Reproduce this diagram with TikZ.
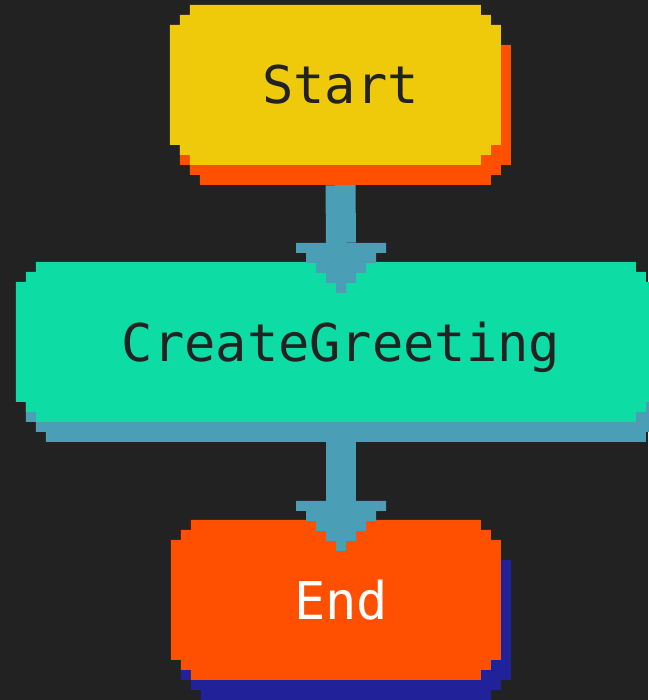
\documentclass[tikz,border=0pt]{standalone}
\usepackage{fontspec}
\setmonofont{DejaVu Sans Mono}
\usepackage{tikz}

\definecolor{bgdark}{HTML}{222222}
\definecolor{startyellow}{HTML}{EECA0B}
\definecolor{hotorange}{HTML}{FF4F00}
\definecolor{mintgreen}{HTML}{0DDDA5}
\definecolor{steelteal}{HTML}{4A9EB5}
\definecolor{deepnavy}{HTML}{21219A}

\pgfdeclarelayer{boxes}
\pgfsetlayers{boxes,main}

\tikzset{
    pixnode/.style={inner sep=0pt, minimum height=160pt, text height=38pt, text depth=0pt,
        font=\fontsize{52}{60}\selectfont\ttfamily},
    pixshaft/.style={draw=steelteal, line width=30pt},
    pixarrow/.style={fill=steelteal}
}

% stepped box: colour, top left corner, width, height
\newcommand{\pixfill}[4]{\fill[#1] #2 ++(20,0) -- ++(#3-40,0) -- ++(0,10) -- ++(10,0) -- ++(0,10) -- ++(10,0) -- ++(0,#4-40) -- ++(-10,0) -- ++(0,10) -- ++(-10,0) -- ++(0,10) -- ++(-#3+40,0) -- ++(0,-10) -- ++(-10,0) -- ++(0,-10) -- ++(-10,0) -- ++(0,-#4+40) -- ++(10,0) -- ++(0,-10) -- ++(10,0) -- cycle;}

% box with its shadow: node, fill, shadow, width
\newcommand{\pixbox}[4]{%
    \begin{pgfonlayer}{boxes}
        \pixfill{#3}{([xshift=10pt,yshift=-20pt]#1.north west)}{#4}{160}
        \pixfill{#2}{(#1.north west)}{#4}{160}
    \end{pgfonlayer}}

% stepped arrow head, top centre given
\newcommand{\pixhead}[1]{\fill[pixarrow] #1 ++(-45,0) -- ++(90,0) -- ++(0,10) -- ++(-10,0) -- ++(0,10) -- ++(-10,0) -- ++(0,10) -- ++(-10,0) -- ++(0,10) -- ++(-10,0) -- ++(0,10) -- ++(-10,0) -- ++(0,-10) -- ++(-10,0) -- ++(0,-10) -- ++(-10,0) -- ++(0,-10) -- ++(-10,0) -- ++(0,-10) -- ++(-10,0) -- cycle;}

\begin{document}
\begin{tikzpicture}[x=1pt, y=-1pt]
        \useasboundingbox (0,0) rectangle (648,700);
        \begin{pgfonlayer}{boxes}
            \fill[bgdark] (0,0) rectangle (648,700);
        \end{pgfonlayer}

        \node[pixnode, minimum width=341pt, text=bgdark] (start) at (340.5,85) {Start};
        \node[pixnode, minimum width=650pt, text=bgdark] (greet) at (341,342) {CreateGreeting};
        \node[pixnode, minimum width=340pt, text=white] (finish) at (341,600) {End};

        \pixbox{start}{startyellow}{hotorange}{331}
        \pixbox{greet}{mintgreen}{steelteal}{640}
        \pixbox{finish}{hotorange}{deepnavy}{330}

        \draw[pixshaft] ([yshift=-20pt]start.south) -- ([yshift=19pt]greet.north);
        \pixhead{([yshift=19pt]greet.north)}
        \draw[pixshaft] ([yshift=-20pt]greet.south) -- ([yshift=19pt]finish.north);
        \pixhead{([yshift=19pt]finish.north)}
    \end{tikzpicture}
\end{document}
